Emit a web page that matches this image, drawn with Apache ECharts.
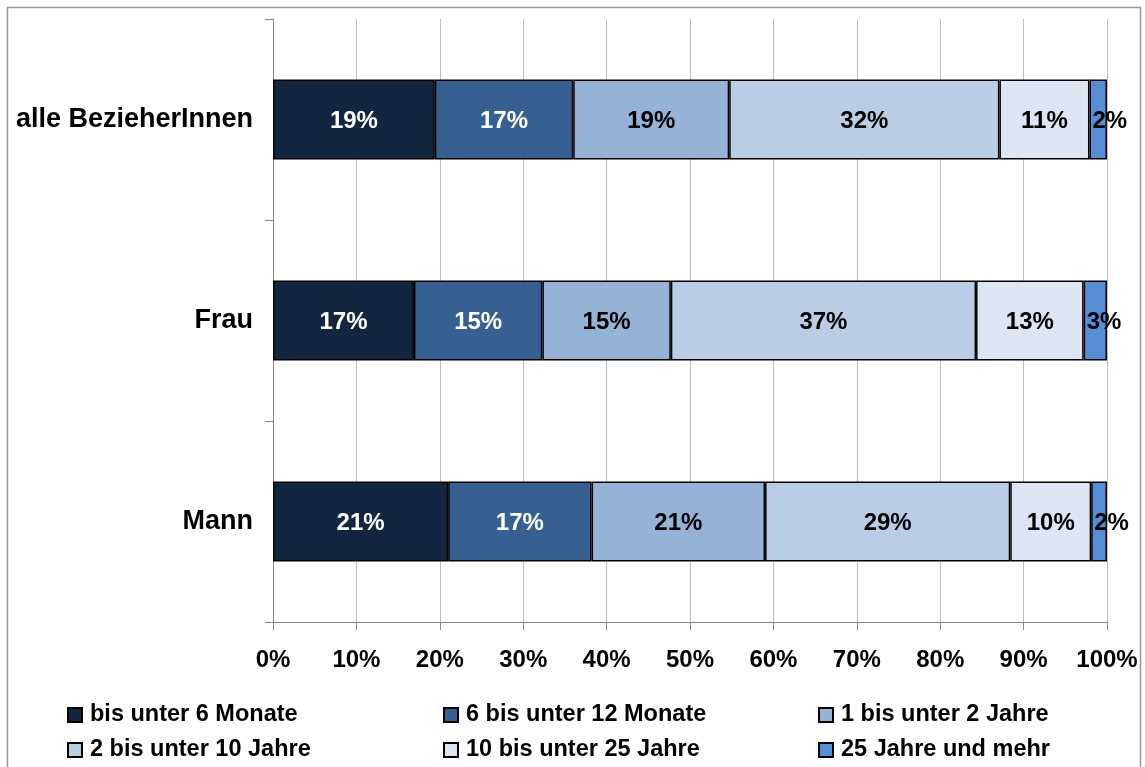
<!DOCTYPE html>
<html>
<head>
<meta charset="utf-8">
<script src="https://cdn.jsdelivr.net/npm/echarts@6/dist/echarts.min.js"></script>
<style>
html,body{margin:0;padding:0;background:#fff;}
#chart{width:1145px;height:767px;}
</style>
</head>
<body>
<div id="chart"></div>
<script>
const categories = ["alle BezieherInnen", "Frau", "Mann"];
const seriesNames = ["bis unter 6 Monate", "6 bis unter 12 Monate", "1 bis unter 2 Jahre", "2 bis unter 10 Jahre", "10 bis unter 25 Jahre", "25 Jahre und mehr"];
const s1 = [19.4, 16.9, 21.0];
const s2 = [16.6, 15.4, 17.2];
const s3 = [18.7, 15.4, 20.8];
const s4 = [32.4, 36.6, 29.4];
const s5 = [10.8, 12.9, 9.7];
const s6 = [2.1, 2.8, 1.9];
const xTicks = [0, 10, 20, 30, 40, 50, 60, 70, 80, 90, 100];

const values = [s1, s2, s3, s4, s5, s6];
const colors = ["#13263F", "#376092", "#95B3D7", "#B9CDE5", "#DCE6F2", "#558ED5"];
const labelColors = ["#fff", "#fff", "#000", "#000", "#000", "#000"];
const FONT = "Liberation Sans";

const chart = echarts.init(document.getElementById('chart'));
const series = values.map((v, i) => ({
  name: seriesNames[i],
  type: 'bar',
  stack: 'total',
  barWidth: 80,
  data: v,
  itemStyle: { color: colors[i], borderColor: '#000', borderWidth: 1.5 },
  label: {
    show: true,
    position: i === 5 ? 'insideLeft' : 'inside',
    distance: 3,
    offset: [0, 2],
    formatter: p => Math.round(p.value) + '%',
    color: labelColors[i],
    fontFamily: FONT,
    fontWeight: 'bold',
    fontSize: 24
  },
  emphasis: { disabled: true },
  animation: false
}));

function legendCol(left, items) {
  return {
    orient: 'vertical',
    left: left,
    top: 703,
    padding: 0,
    itemWidth: 14,
    itemHeight: 14,
    itemGap: 11,
    icon: 'rect',
    data: items,
    selectedMode: false,
    textStyle: { fontFamily: FONT, fontWeight: 'bold', fontSize: 23.5, lineHeight: 24, color: '#000', padding: [0, 0, 0, 3] }
  };
}

chart.setOption({
  animation: false,
  backgroundColor: '#fff',
  grid: { left: 273, right: 38, top: 19, bottom: 145, containLabel: false },
  xAxis: {
    type: 'value',
    min: 0, max: 100, interval: 10,
    axisLine: { show: true, lineStyle: { color: '#888', width: 1 } },
    axisTick: { show: true, length: 8, lineStyle: { color: '#888' } },
    splitLine: { show: true, lineStyle: { color: '#BFBFBF', width: 1 } },
    axisLabel: {
      formatter: v => xTicks.includes(v) ? v + '%' : '',
      margin: 26,
      color: '#000', fontFamily: FONT, fontWeight: 'bold', fontSize: 24
    }
  },
  yAxis: {
    type: 'category',
    data: categories,
    inverse: true,
    axisLine: { show: true, lineStyle: { color: '#888', width: 1 } },
    axisTick: { show: true, length: 8, lineStyle: { color: '#888' } },
    axisLabel: { margin: 20, padding: [4, 0, 0, 0], color: '#000', fontFamily: FONT, fontWeight: 'bold', fontSize: 27 }
  },
  legend: [
    legendCol(67, [seriesNames[0], seriesNames[3]]),
    legendCol(443, [seriesNames[1], seriesNames[4]]),
    legendCol(818, [seriesNames[2], seriesNames[5]])
  ],
  graphic: [{
    type: 'rect',
    shape: { x: 7.5, y: 7.5, width: 1133, height: 800 },
    style: { fill: 'none', stroke: '#999', lineWidth: 1.5 },
    silent: true,
    z: -1
  }],
  series: series
});
</script>
</body>
</html>
